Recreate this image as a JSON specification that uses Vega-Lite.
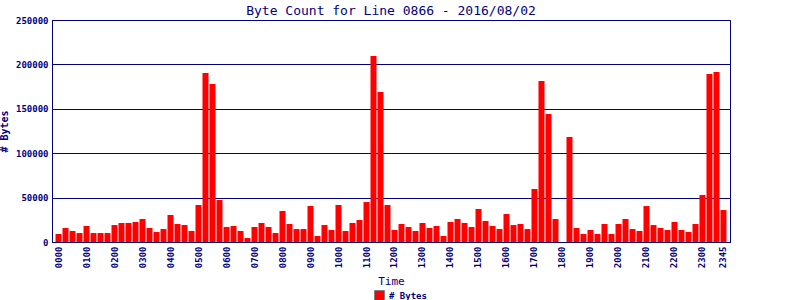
{
  "$schema": "https://vega.github.io/schema/vega-lite/v6.json",
  "autosize": "none",
  "width": 678,
  "height": 222,
  "padding": {"left": 52, "top": 20, "right": 70, "bottom": 58},
  "background": "white",
  "title": {"text": "Byte Count for Line 0866 - 2016/08/02", "font": "DejaVu Sans Mono", "fontSize": 13, "fontWeight": "normal", "color": "#000080", "anchor": "middle", "frame": "group", "offset": -2},
  "config": {
    "view": {"stroke": "#000080", "strokeWidth": 1},
    "axis": {"labelFont": "DejaVu Sans Mono", "labelFontSize": 9, "labelFontWeight": "bold", "labelColor": "#000080", "titleFont": "DejaVu Sans Mono", "titleColor": "#000080", "domainColor": "#000080", "ticks": false}
  },
  "data": {"values": [
    {"t":"0000","v":9000},{"t":"0015","v":15800},{"t":"0030","v":12400},{"t":"0045","v":10100},
    {"t":"0100","v":18000},{"t":"0115","v":10100},{"t":"0130","v":10100},{"t":"0145","v":10100},
    {"t":"0200","v":19100},{"t":"0215","v":21400},{"t":"0230","v":21400},{"t":"0245","v":22500},
    {"t":"0300","v":25900},{"t":"0315","v":15800},{"t":"0330","v":11300},{"t":"0345","v":14600},
    {"t":"0400","v":30400},{"t":"0415","v":20300},{"t":"0430","v":19100},{"t":"0445","v":12400},
    {"t":"0500","v":41700},{"t":"0515","v":190300},{"t":"0530","v":177900},{"t":"0545","v":47300},
    {"t":"0600","v":16900},{"t":"0615","v":18000},{"t":"0630","v":12400},{"t":"0645","v":4500},
    {"t":"0700","v":16900},{"t":"0715","v":21400},{"t":"0730","v":16900},{"t":"0745","v":10100},
    {"t":"0800","v":34900},{"t":"0815","v":20300},{"t":"0830","v":14600},{"t":"0845","v":14600},
    {"t":"0900","v":40500},{"t":"0915","v":6800},{"t":"0930","v":19100},{"t":"0945","v":13500},
    {"t":"1000","v":41700},{"t":"1015","v":12400},{"t":"1030","v":21400},{"t":"1045","v":24800},
    {"t":"1100","v":45000},{"t":"1115","v":209500},{"t":"1130","v":168900},{"t":"1145","v":41700},
    {"t":"1200","v":13500},{"t":"1215","v":20300},{"t":"1230","v":16900},{"t":"1245","v":12400},
    {"t":"1300","v":21400},{"t":"1315","v":15800},{"t":"1330","v":18000},{"t":"1345","v":6800},
    {"t":"1400","v":22500},{"t":"1415","v":25900},{"t":"1430","v":21400},{"t":"1445","v":16900},
    {"t":"1500","v":37200},{"t":"1515","v":23700},{"t":"1530","v":18000},{"t":"1545","v":14600},
    {"t":"1600","v":31500},{"t":"1615","v":19100},{"t":"1630","v":20300},{"t":"1645","v":14600},
    {"t":"1700","v":59700},{"t":"1715","v":181300},{"t":"1730","v":144200},{"t":"1745","v":25900},
    {"t":"1800","v":0},{"t":"1815","v":118300},{"t":"1830","v":15800},{"t":"1845","v":9000},
    {"t":"1900","v":13500},{"t":"1915","v":9000},{"t":"1930","v":20300},{"t":"1945","v":9000},
    {"t":"2000","v":20300},{"t":"2015","v":25900},{"t":"2030","v":14600},{"t":"2045","v":12400},
    {"t":"2100","v":40500},{"t":"2115","v":19100},{"t":"2130","v":15800},{"t":"2145","v":13500},
    {"t":"2200","v":22500},{"t":"2215","v":13500},{"t":"2230","v":11300},{"t":"2245","v":20300},
    {"t":"2300","v":52900},{"t":"2315","v":189200},{"t":"2330","v":191500},{"t":"2345","v":36000}
  ]},
  "mark": {"type": "bar"},
  "encoding": {
    "x": {"field": "t", "type": "ordinal", "sort": null,
      "scale": {"paddingInner": 0.14, "paddingOuter": 0.5},
      "axis": {"title": "Time", "titleFontSize": 11, "titleFontWeight": "normal", "titlePadding": 8, "labelAngle": -90, "labelPadding": 4,
        "labelExpr": "(slice(datum.value,2)=='00' || datum.value=='2345') ? datum.value : ''"}},
    "y": {"field": "v", "type": "quantitative",
      "scale": {"domain": [0, 250000], "nice": false},
      "axis": {"title": "# Bytes", "titleFontSize": 10, "titleFontWeight": "bold", "titlePadding": 6, "values": [0,50000,100000,150000,200000,250000], "format": "d", "grid": true, "gridColor": "#000080", "gridOpacity": 1, "labelPadding": 4}},
    "color": {"datum": "# Bytes", "type": "nominal", "scale": {"range": ["#ff0000"]},
      "legend": {"title": null, "orient": "none", "legendX": 322, "legendY": 270, "padding": 0, "symbolType": "square", "symbolSize": 100, "symbolStrokeColor": "#808080", "symbolStrokeWidth": 1, "symbolOpacity": 1, "labelFont": "DejaVu Sans Mono", "labelFontSize": 9, "labelFontWeight": "bold", "labelColor": "#000080"}}
  }
}
